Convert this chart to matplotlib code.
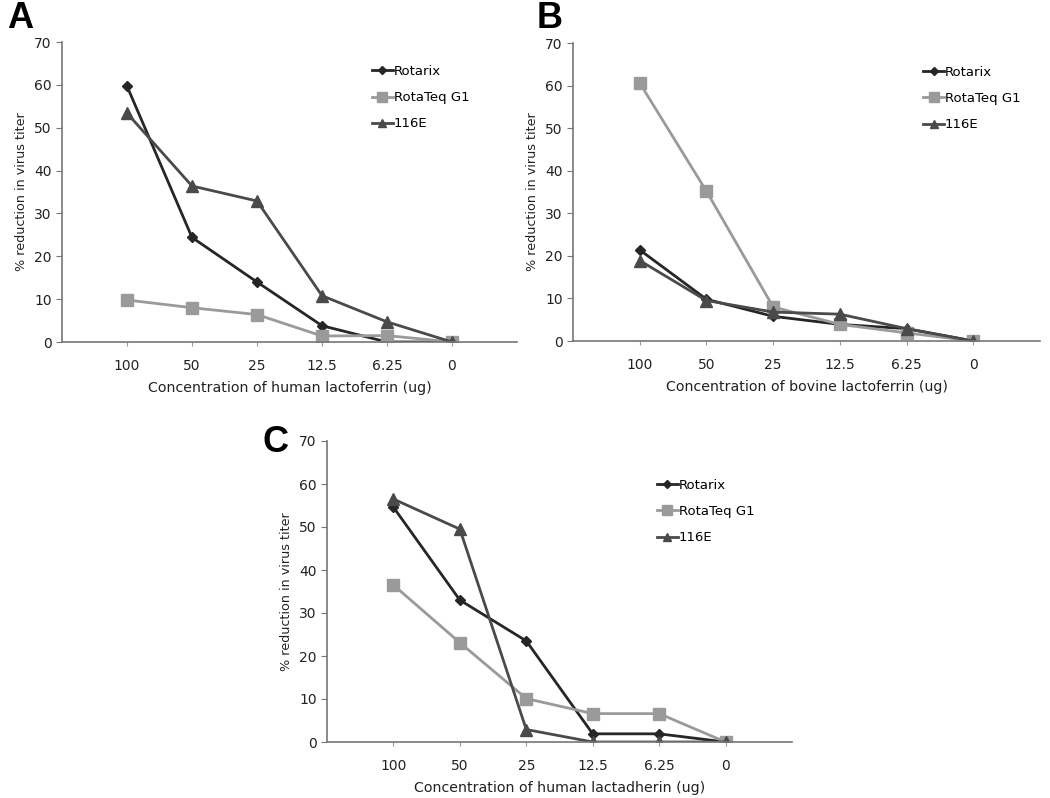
import matplotlib
matplotlib.use("Agg")
import matplotlib.pyplot as plt

conc = ["100", "50", "25", "12.5", "6.25", "0"]
names = ["Rotarix", "RotaTeq G1", "116E"]

# panel A - human lactoferrin
a_rotarix = [59.7, 24.4, 14.0, 3.8, 0.0, 0.0]
a_rotateq = [9.8, 8.0, 6.4, 1.4, 1.5, 0.0]
a_116e = [53.4, 36.4, 32.9, 10.8, 4.7, 0.0]

# panel B - bovine lactoferrin
b_rotarix = [21.4, 9.8, 5.8, 3.9, 2.9, 0.0]
b_rotateq = [60.6, 35.2, 8.0, 3.9, 1.9, 0.0]
b_116e = [18.9, 9.5, 6.8, 6.3, 2.9, 0.0]

# panel C - human lactadherin
c_rotarix = [54.6, 33.0, 23.5, 1.9, 1.9, 0.0]
c_rotateq = [36.5, 23.1, 10.1, 6.6, 6.6, 0.0]
c_116e = [56.5, 49.5, 2.9, 0.0, 0.0, 0.0]

colors = ["#262626", "#9a9a9a", "#4a4a4a"]
markers = ["D", "s", "^"]
msizes = [5, 9, 8]

fig = plt.figure(figsize=(10.5, 7.98), dpi=100)
W, H = 1050.0, 798.0


def panel(rect, series, xlabel, letter, letter_xy, leg_xy):
    l, r, t, b = rect
    ax = fig.add_axes([l / W, 1 - b / H, (r - l) / W, (b - t) / H])
    x = range(1, len(conc) + 1)
    for vals, c, m, ms, nm in zip(series, colors, markers, msizes, names):
        ax.plot(x, vals, color=c, marker=m, markersize=ms, lw=2, label=nm)
    ax.set_xlim(0, 7)
    ax.set_ylim(0, 70)
    ax.set_yticks(range(0, 71, 10))
    ax.set_xticks(list(x))
    ax.set_xticklabels(conc)
    for s in ["top", "right"]:
        ax.spines[s].set_visible(False)
    for s in ["left", "bottom"]:
        ax.spines[s].set_color("#777777")
        ax.spines[s].set_linewidth(1.2)
    ax.tick_params(axis="y", colors="#777777", labelcolor="#222222", labelsize=10, length=4)
    ax.tick_params(axis="x", colors="#999999", labelcolor="#222222", labelsize=10, length=3, pad=9)
    ax.set_xlabel(xlabel, fontsize=10.2, color="#222222", labelpad=6)
    ax.set_ylabel("% reduction in virus titer", fontsize=9.2, color="#222222")
    ax.legend(loc="upper left", bbox_to_anchor=leg_xy, frameon=False,
              fontsize=9.5, handlelength=1.6, handletextpad=0.05, labelspacing=1.0,
              markerscale=0.75)
    fig.text(letter_xy[0] / W, 1 - letter_xy[1] / H, letter, fontsize=26,
             fontweight="bold", ha="left", va="center", family="Liberation Sans")
    return ax


panel((62, 517, 42, 342), [a_rotarix, a_rotateq, a_116e],
      "Concentration of human lactoferrin (ug)", "A", (7, 19), (0.655, 0.963))
panel((573, 1040, 43, 341), [b_rotarix, b_rotateq, b_116e],
      "Concentration of bovine lactoferrin (ug)", "B", (537, 19), (0.724, 0.963))
panel((327, 792, 441, 742), [c_rotarix, c_rotateq, c_116e],
      "Concentration of human lactadherin (ug)", "C", (262, 443), (0.684, 0.914))

fig.savefig("out.png", dpi=100)
